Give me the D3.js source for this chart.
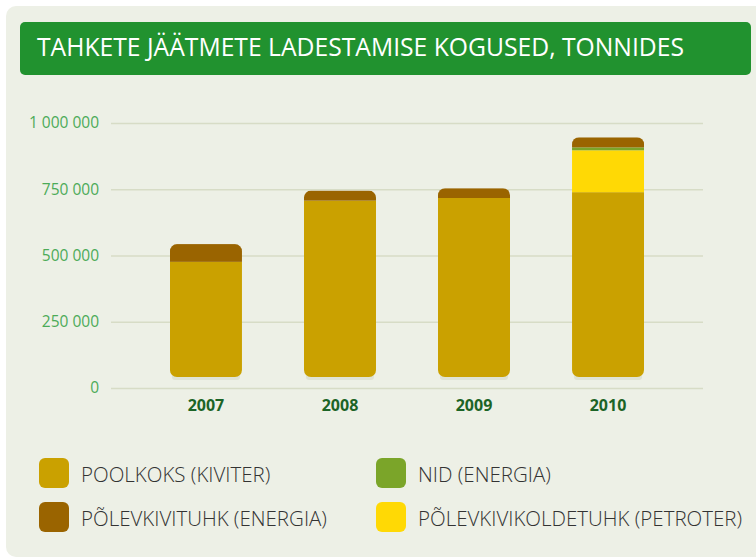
<!DOCTYPE html>
<html lang="et">
<head>
  <meta charset="UTF-8">
  <title>Tahkete jäätmete ladestamise kogused</title>
  <script src="https://d3js.org/d3.v7.min.js"></script>
  <style>
    body { margin: 0; background: #fff; }
    svg text { font-family: "Open Sans", "Liberation Sans Narrow", sans-serif; }
    .title { fill: #fff; font-size: 24.7px; }
    .axis text { fill: #4cab58; font-size: 15.5px; font-weight: 400; }
    .year { fill: #1c6426; font-size: 16px; font-weight: 700; }
    .legend text { fill: #333; font-size: 20.5px; font-weight: 300; }
  </style>
</head>
<body>
<svg id="chart" width="756" height="559"></svg>
<script>
  // data
  const years = ["2007", "2008", "2009", "2010"];
  const poolkoks = [476000, 707000, 717000, 739000];
  const koldetuhk = [0, 0, 0, 158000];
  const nid = [0, 0, 0, 11000];
  const tuhk = [67000, 38000, 37000, 38000];
  const yTicks = [0, 250000, 500000, 750000, 1000000];

  const series = [
    {key: "poolkoks", name: "POOLKOKS (KIVITER)", values: poolkoks, color: "#caa100"},
    {key: "koldetuhk", name: "PÕLEVKIVIKOLDETUHK (PETROTER)", values: koldetuhk, color: "#ffd905"},
    {key: "nid", name: "NID (ENERGIA)", values: nid, color: "#7ba529"},
    {key: "tuhk", name: "PÕLEVKIVITUHK (ENERGIA)", values: tuhk, color: "#9a6400"}
  ];
  const legendOrder = ["poolkoks", "nid", "tuhk", "koldetuhk"];

  const svg = d3.select("#chart");

  // panel + title bar
  svg.append("rect").attr("x", 6).attr("y", 6).attr("width", 770).attr("height", 551)
    .attr("rx", 10).attr("fill", "#edf0e6");
  svg.append("rect").attr("x", 20).attr("y", 22).attr("width", 731).attr("height", 53)
    .attr("rx", 5).attr("fill", "#21922f");
  svg.append("text").attr("class", "title").attr("x", 37).attr("y", 56)
    .text("TAHKETE JÄÄTMETE LADESTAMISE KOGUSED, TONNIDES");

  const x = d3.scaleBand().domain(years).range([111, 703])
    .paddingInner(0.4627).paddingOuter(0.44);
  const y = d3.scaleLinear().domain([0, 1000000]).range([388, 123]);

  const fmt = d3.formatLocale({decimal: ",", thousands: " ", grouping: [3], currency: ["", ""]}).format(",d");

  const yAxis = svg.append("g").attr("class", "axis").attr("transform", "translate(111,0)")
    .call(d3.axisLeft(y).tickValues(yTicks).tickFormat(fmt).tickSize(-592).tickPadding(12));
  yAxis.select(".domain").remove();
  yAxis.selectAll("line").attr("stroke", "#d7dcc6").attr("stroke-width", 1.5);

  // stacked bars
  const rows = years.map((yr, i) => {
    const r = {year: yr};
    series.forEach(s => r[s.key] = s.values[i]);
    return r;
  });
  const stacked = d3.stack().keys(series.map(s => s.key))(rows);
  const gap = 11;

  const defs = svg.append("defs");
  rows.forEach((r, i) => {
    const total = d3.sum(series, s => r[s.key]);
    defs.append("clipPath").attr("id", "clip" + i)
      .append("rect")
      .attr("x", x(r.year)).attr("width", x.bandwidth())
      .attr("y", y(total)).attr("height", y(0) - gap - y(total))
      .attr("rx", 7);
    // soft shadow under bar
    svg.append("rect")
      .attr("x", x(r.year) + 2).attr("width", x.bandwidth() - 4)
      .attr("y", y(0) - gap - 3).attr("height", 6).attr("rx", 3)
      .attr("fill", "#dfe3d3");
  });

  const bars = svg.append("g");
  stacked.forEach((layer, li) => {
    bars.append("g").attr("fill", series[li].color)
      .selectAll("rect").data(layer).join("rect")
      .attr("clip-path", (d, i) => "url(#clip" + i + ")")
      .attr("x", d => x(d.data.year))
      .attr("width", x.bandwidth())
      .attr("y", d => y(d[1]))
      .attr("height", d => li === 0 ? y(0) - y(d[1]) : y(d[0]) - y(d[1]));
  });

  svg.append("g").selectAll("text").data(years).join("text")
    .attr("class", "year")
    .attr("x", d => x(d) + x.bandwidth() / 2)
    .attr("y", 411)
    .attr("text-anchor", "middle")
    .text(d => d);

  // legend
  const legendPos = [[39, 458], [376, 458], [39, 502], [376, 502]];
  const legend = svg.append("g").attr("class", "legend");
  legendOrder.forEach((k, i) => {
    const s = series.find(d => d.key === k);
    const g = legend.append("g").attr("transform", "translate(" + legendPos[i] + ")");
    g.append("rect").attr("width", 30).attr("height", 30).attr("rx", 6).attr("fill", s.color);
    g.append("text").attr("x", 42).attr("y", 24).text(s.name);
  });
</script>
</body>
</html>
